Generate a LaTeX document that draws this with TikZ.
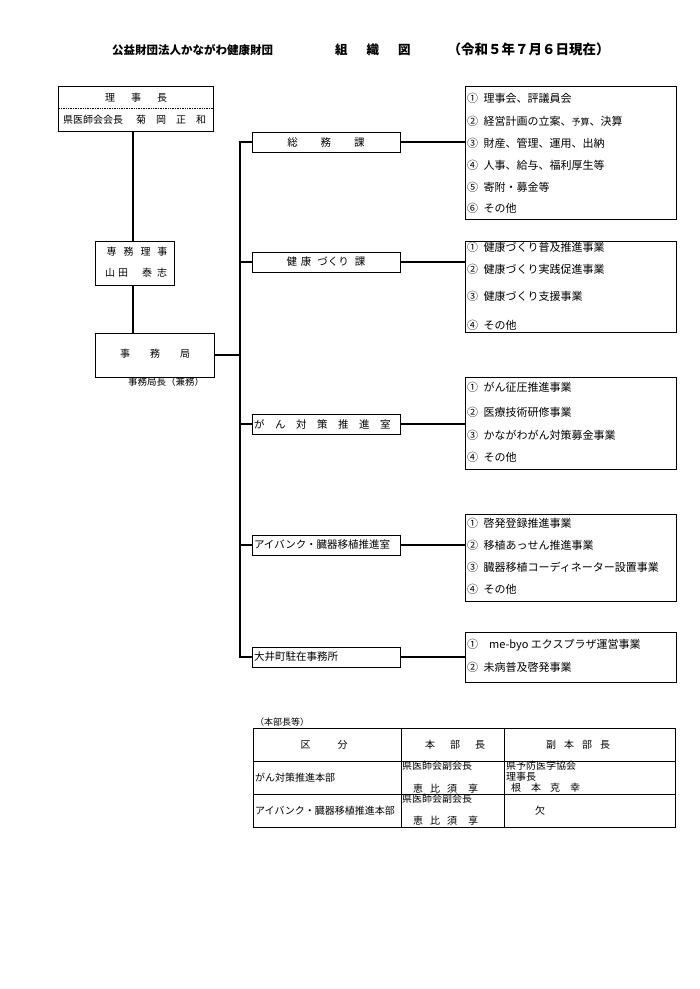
\documentclass[tikz,border=0pt]{standalone}
\usepackage{fontspec}
\setmainfont{Noto Sans CJK JP}
\usepackage{tikz}
\usetikzlibrary{positioning,calc}

\begin{document}
\begin{tikzpicture}[
x=1pt,y=-1pt,
    box/.style={
        draw,
        rectangle,
        line width=0.7pt,
        inner sep=0pt
    },
    unit/.style={
        box,
        minimum height=20pt,
        text width=144pt,
        inner xsep=2pt,
        font=\fontsize{10.5}{12}\selectfont
    },
    txt/.style={inner sep=0pt,font=\fontsize{10}{12}\selectfont},
    item/.style={anchor=west,inner sep=0pt,font=\fontsize{11}{13}\selectfont},
    cell/.style={inner sep=0pt,font=\fontsize{10}{11}\selectfont},
    link/.style={line width=1.1pt}
]
\useasboundingbox (0,0) rectangle (700,989);

% Title
\node[anchor=west,inner sep=0pt,font=\bfseries] (title) at (112,49)
    {\fontsize{11.5}{15}\selectfont 公益財団法人かながわ健康財団\hspace{62pt}\fontsize{12.5}{15}\selectfont 組\hspace{19pt}織\hspace{19pt}図\hspace{37pt}\fontsize{13.5}{15}\selectfont （令和５年７月６日現在）};

% Left column
\node[box,minimum width=155pt,minimum height=45pt] (chair) at (135.5,108.5) {};
\node[txt] (chairT) at (136,97.5) {理\hspace{16pt}事\hspace{16pt}長};
\node[txt,anchor=west] (chairN) at (63,120) {県医師会会長\hspace{13pt}菊\hspace{10pt}岡\hspace{10pt}正\hspace{10pt}和};
\node[box,minimum width=79pt,minimum height=44pt] (senmu) at (134.5,263) {};
\node[txt] (senmuT) at (137,252) {専\hspace{7pt}務\hspace{7pt}理\hspace{7pt}事};
\node[txt] (senmuN) at (136,273) {山\hspace{3pt}田\hspace{14pt}泰\hspace{5pt}志};
\node[box,minimum width=119pt,minimum height=44pt] (jimu) at (154.5,355) {};
\node[txt] (jimuT) at (155,354) {事\hspace{20pt}務\hspace{20pt}局};
\node[txt,font=\fontsize{9.5}{11}\selectfont] (jimuN) at (166,382) {事務局長（兼務）};

% Sections
\node[unit,align=center] (somu)  at (326,142) {総\hspace{23pt}務\hspace{23pt}課};
\node[unit,align=center] (kenko) at (326,262) {健\hspace{4pt}康\hspace{6pt}づくり\hspace{6pt}課};
\node[unit,align=left]   (gan)   at (326,424) {が\hspace{10.5pt}ん\hspace{10.5pt}対\hspace{10.5pt}策\hspace{10.5pt}推\hspace{10.5pt}進\hspace{10.5pt}室};
\node[unit,align=left]   (eye)   at (326,545) {アイバンク・臓器移植推進室};
\node[unit,align=left]   (oi)    at (326,657) {大井町駐在事務所};

% Duties
\node[box,minimum width=211pt,minimum height=133pt] (somuJ) at (570.5,152.5) {};
\node[item] (somu1) at (467,98)  {①\enspace 理事会、評議員会};
\node[item] (somu2) at (467,121) {②\enspace 経営計画の立案、{\fontsize{9}{10}\selectfont 予算}、決算};
\node[item] (somu3) at (467,143) {③\enspace 財産、管理、運用、出納};
\node[item] (somu4) at (467,165) {④\enspace 人事、給与、福利厚生等};
\node[item] (somu5) at (467,187) {⑤\enspace 寄附・募金等};
\node[item] (somu6) at (467,208) {⑥\enspace その他};

\node[box,minimum width=211pt,minimum height=91pt] (kenkoJ) at (570.5,286.5) {};
\node[item] (kenko1) at (467,247) {①\enspace 健康づくり普及推進事業};
\node[item] (kenko2) at (467,269) {②\enspace 健康づくり実践促進事業};
\node[item] (kenko3) at (467,296) {③\enspace 健康づくり支援事業};
\node[item] (kenko4) at (467,325) {④\enspace その他};

\node[box,minimum width=211pt,minimum height=92pt] (ganJ) at (570.5,423) {};
\node[item] (gan1) at (467,387) {①\enspace がん征圧推進事業};
\node[item] (gan2) at (467,412) {②\enspace 医療技術研修事業};
\node[item] (gan3) at (467,435) {③\enspace かながわがん対策募金事業};
\node[item] (gan4) at (467,457) {④\enspace その他};

\node[box,minimum width=211pt,minimum height=87pt] (eyeJ) at (570.5,557.5) {};
\node[item] (eye1) at (467,523) {①\enspace 啓発登録推進事業};
\node[item] (eye2) at (467,545) {②\enspace 移植あっせん推進事業};
\node[item] (eye3) at (467,567) {③\enspace 臓器移植コーディネーター設置事業};
\node[item] (eye4) at (467,589) {④\enspace その他};

\node[box,minimum width=211pt,minimum height=50pt] (oiJ) at (570.5,657) {};
\node[item] (oi1) at (467,645) {①\enspace\enspace me-byo エクスプラザ運営事業};
\node[item] (oi2) at (467,667) {②\enspace 未病普及啓発事業};

% Connectors
\coordinate (spine) at (133,0);
\coordinate (trunk) at (240,0);
\draw[link] (chair.south -| spine) -- (senmu.north -| spine);
\draw[link] (senmu.south -| spine) -- (jimu.north -| spine);
\draw[link] (jimu.east) -- (jimu.east -| trunk);
\draw[link] (somu.west) -- (somu.west -| trunk) -- (oi.west -| trunk) -- (oi.west);
\draw[link] (kenko.west) -- (kenko.west -| trunk);
\draw[link] (gan.west) -- (gan.west -| trunk);
\draw[link] (eye.west) -- (eye.west -| trunk);
\draw[link] (somu.east) -- (somu.east -| somuJ.west);
\draw[link] (kenko.east) -- (kenko.east -| kenkoJ.west);
\draw[link] (gan.east) -- (gan.east -| ganJ.west);
\draw[link] (eye.east) -- (eye.east -| eyeJ.west);
\draw[link] (oi.east) -- (oi.east -| oiJ.west);
\draw[densely dotted,line width=0.7pt] (chair.west) -- (chair.east);

% Table of headquarters
\node[cell,anchor=west,font=\fontsize{9}{10}\selectfont] (note) at (255,722) {（本部長等）};
\draw[line width=0.9pt] (253,728) rectangle (675,827);
\draw[line width=0.9pt] (253,761) -- (675,761);
\draw[line width=0.9pt] (253,794) -- (675,794);
\draw[line width=0.9pt] (401,728) -- (401,827);
\draw[line width=0.9pt] (504,728) -- (504,827);
\node[cell] (head1) at (324,745) {区\hspace{27pt}分};
\node[cell] (head2) at (455,745) {本\hspace{15pt}部\hspace{15pt}長};
\node[cell] (head3) at (578,745) {副\hspace{8pt}本\hspace{8pt}部\hspace{8pt}長};
\node[cell,anchor=west] (row1a) at (255,778) {がん対策推進本部};
\node[cell,anchor=west] (row1b) at (402,766) {県医師会副会長};
\node[cell,anchor=west] (row1c) at (413,789) {恵\hspace{7pt}比\hspace{7pt}須\hspace{11pt}享};
\node[cell,anchor=west] (row1d) at (506,766) {県予防医学協会};
\node[cell,anchor=west] (row1e) at (506,777) {理事長};
\node[cell,anchor=west] (row1f) at (511,788) {根\hspace{10pt}本\hspace{9pt}克\hspace{10pt}幸};
\node[cell,anchor=west] (row2a) at (255,811) {アイバンク・臓器移植推進本部};
\node[cell,anchor=west] (row2b) at (402,799) {県医師会副会長};
\node[cell,anchor=west] (row2c) at (413,821) {恵\hspace{7pt}比\hspace{7pt}須\hspace{11pt}享};
\node[cell] (row2d) at (540,811) {欠};
\end{tikzpicture}
\end{document}
